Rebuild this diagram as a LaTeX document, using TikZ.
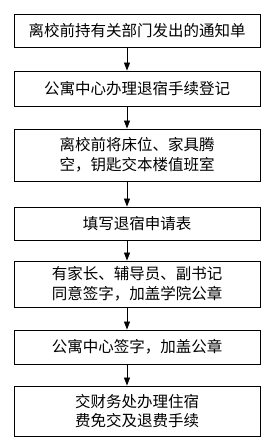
\documentclass[tikz,border=0pt]{standalone}
\usepackage{fontspec}
\newfontfamily\cjk{Noto Sans CJK SC}
\usetikzlibrary{arrows.meta}
\begin{document}
\begin{tikzpicture}[x=1pt,y=-1pt,
  stepbox/.style={draw=black,line width=0.9pt,minimum width=246pt,inner sep=0pt,align=center,
    font=\cjk\fontsize{15.5}{19.5}\selectfont},
  arr/.style={line width=0.8pt,-{Triangle[length=8pt,width=6pt]}}]
\useasboundingbox[fill=white] (0,0) rectangle (275,447);
\node[stepbox,minimum height=33pt] (b1) at (137,30.5) {离校前持有关部门发出的通知单};
\node[stepbox,minimum height=35pt] (b2) at (137,88.5) {公寓中心办理退宿手续登记};
\node[stepbox,minimum height=52pt] (b3) at (137,155) {离校前将床位、家具腾\\空，钥匙交本楼值班室};
\node[stepbox,minimum height=33pt] (b4) at (137,223.5) {填写退宿申请表};
\node[stepbox,minimum height=46pt] (b5) at (137,284) {有家长、辅导员、副书记\\同意签字，加盖学院公章};
\node[stepbox,minimum height=34pt] (b6) at (137,347) {公寓中心签字，加盖公章};
\node[stepbox,minimum height=50pt] (b7) at (137,411) {交财务处办理住宿\\费免交及退费手续};
\coordinate (ax) at (127,0);
\draw[arr] (b1.south -| ax) -- (b2.north -| ax);
\draw[arr] (b2.south -| ax) -- (b3.north -| ax);
\draw[arr] (b3.south -| ax) -- (b4.north -| ax);
\draw[arr] (b4.south -| ax) -- (b5.north -| ax);
\draw[arr] (b5.south -| ax) -- (b6.north -| ax);
\draw[arr] (b6.south -| ax) -- (b7.north -| ax);
\end{tikzpicture}
\end{document}
